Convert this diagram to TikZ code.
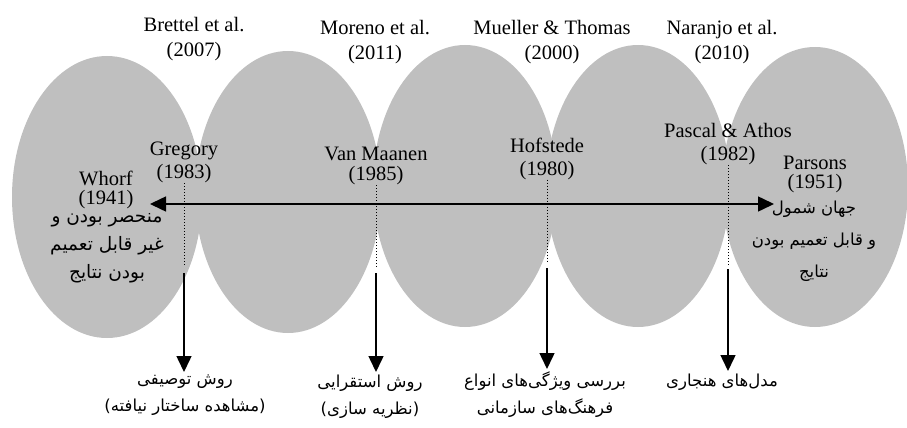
\documentclass[tikz,border=0pt]{standalone}
\usepackage{fontspec}
\setmainfont{Liberation Serif}
\newfontfamily\farsifont[Script=Arabic]{DejaVu Sans}
\TeXXeTstate=1
\usetikzlibrary{arrows.meta}
\newcommand{\fatext}[1]{{\farsifont\beginR #1\endR}}

\begin{document}
\begin{tikzpicture}[x=1pt,y=-1pt,>={Triangle[length=16pt,width=15pt]},
	blob/.style={fill=black!25,draw=none},
	who/.style={font=\fontsize{20.5}{23}\selectfont,align=center,inner sep=0pt},
	fain/.style={font=\fontsize{18.5}{28}\selectfont,align=center,inner sep=0pt},
	faout/.style={font=\fontsize{16.5}{27}\selectfont,align=center,inner xsep=1pt,inner ysep=3pt,anchor=north},
	axis/.style={line width=1.5pt},
	guide/.style={line width=1pt,dotted}]
	\useasboundingbox (0,0) rectangle (907,428);
	\fill [blob] (107,197) ellipse [x radius=95, y radius=141];
	\fill [blob] (288,192) ellipse [x radius=93, y radius=141];
	\fill [blob] (465,186) ellipse [x radius=92, y radius=141];
	\fill [blob] (638,186) ellipse [x radius=92, y radius=141];
	\fill [blob] (815,187) ellipse [x radius=93, y radius=140];
	\node [who] (brettel) at (194,39.5) {Brettel et al.\\[2pt](2007)};
	\node [who] (moreno) at (375,42) {Moreno et al.\\[2pt](2011)};
	\node [who] (mueller) at (552,42) {Mueller \& Thomas\\[2pt](2000)};
	\node [who] (naranjo) at (722,42) {Naranjo et al.\\[2pt](2010)};
	\node [who] (whorf) at (106,190) {Whorf\\[-4pt](1941)};
	\node [who] (gregory) at (184,162.5) {Gregory\\(1983)};
	\node [who] (vanmaanen) at (376,166) {Van Maanen\\[-3pt](1985)};
	\node [who] (hofstede) at (547,158.5) {Hofstede\\(1980)};
	\node [who] (pascal) at (728,144.5) {Pascal \& Athos\\(1982)};
	\node [who] (parsons) at (815,174.5) {Parsons\\[-4pt](1951)};
	\node [fain] (whorfres) at (107,248) {\fatext{منحصر بودن و}\\\fatext{غیر قابل تعمیم}\\\fatext{بودن نتایج}};
	\node [fain,font=\fontsize{16.5}{32}\selectfont] (parsonsres) at (814,241) {\fatext{جهان شمول}\\\fatext{و قابل تعمیم بودن}\\\fatext{نتایج}};
	\node [faout] (descr) at (185,372) {\fatext{روش توصیفی}\\\fatext{(مشاهده ساختار نیافته)}};
	\node [faout] (induct) at (370,372) {\fatext{روش استقرایی}\\\fatext{(نظریه سازی)}};
	\node [faout] (types) at (545,369) {\fatext{بررسی ویژگی‌های انواع}\\\fatext{فرهنگ‌های سازمانی}};
	\node [faout] (norm) at (722,371) {\fatext{مدل‌های هنجاری}};
	\coordinate (axisL) at (150,204);
	\coordinate (axisR) at (774,204);
	\coordinate (gregoryend) at (184,267);
	\coordinate (vanmaanenend) at (376,267);
	\coordinate (hofstedeend) at (547,263);
	\coordinate (pascalend) at (728,265);
	\coordinate (gregoryarr) at (184,273);
	\coordinate (vanmaanenarr) at (376,273);
	\coordinate (hofstedearr) at (547,268);
	\coordinate (pascalarr) at (728,269);
	\draw [axis,<->] (axisL) -- (axisR);
	\draw [guide] (gregory.south) -- (gregoryend);
	\draw [guide] (vanmaanen.south) -- (vanmaanenend);
	\draw [guide] (hofstede.south) -- (hofstedeend);
	\draw [guide] (pascal.south) -- (pascalend);
	\draw [axis,->] (gregoryarr) -- (gregoryarr |- descr.north);
	\draw [axis,->] (vanmaanenarr) -- (vanmaanenarr |- induct.north);
	\draw [axis,->] (hofstedearr) -- (hofstedearr |- types.north);
	\draw [axis,->] (pascalarr) -- (pascalarr |- norm.north);
\end{tikzpicture}
\end{document}
